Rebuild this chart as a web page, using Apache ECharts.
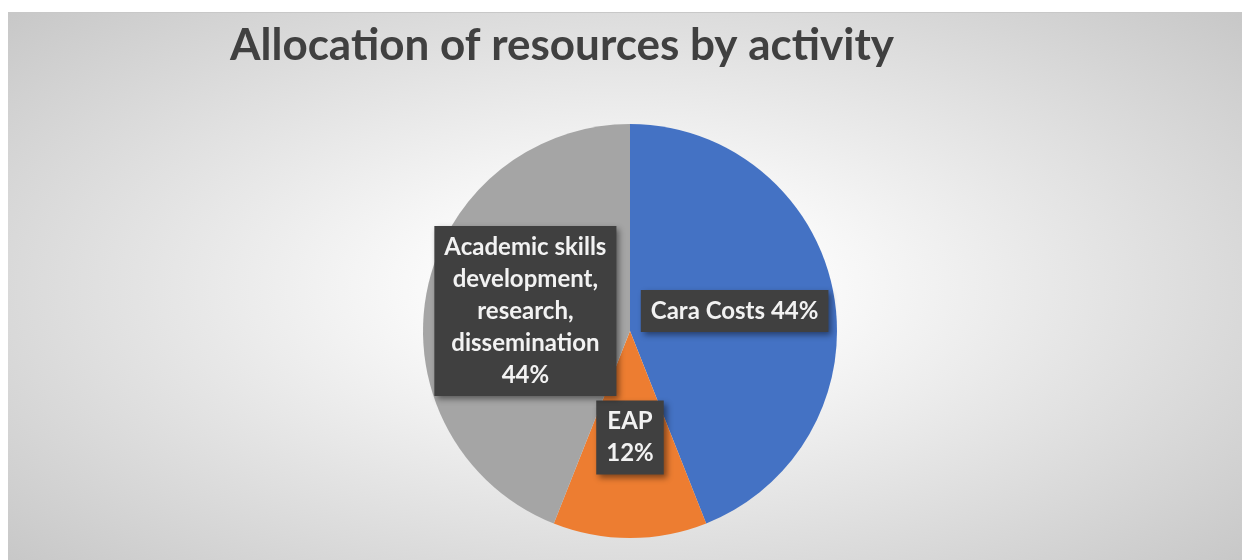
<!DOCTYPE html>
<html>
<head>
<meta charset="utf-8">
<script src="https://cdn.jsdelivr.net/npm/echarts@6/dist/echarts.min.js"></script>
<style>
  html, body { margin: 0; padding: 0; background: #fff; }
  #main {
    position: absolute; left: 8px; top: 12px; width: 1234px; height: 548px;
    border-top: 1px solid #c8c8c8;
    background: radial-gradient(ellipse 70% 75% at 50% 50%, #ffffff 15%, #c6c6c6 100%);
  }
</style>
</head>
<body>
<div id="main"></div>
<script>
// slice data
const categories = ['Cara Costs', 'EAP', 'Academic skills\ndevelopment,\nresearch,\ndissemination'];
const shares = [44, 12, 44];
const colors = ['#4472c4', '#ed7d31', '#a5a5a5'];

const chart = echarts.init(document.getElementById('main'));

chart.setOption({
  title: {
    text: 'Allocation of resources by activity',
    left: 217,
    top: 6,
    textStyle: {
      fontFamily: 'Lato',
      fontWeight: 'bold',
      fontSize: 44,
      color: '#404040'
    }
  },
  series: [{
    type: 'pie',
    center: [622, 318],
    radius: 207,
    startAngle: 90,
    clockwise: true,
    silent: true,
    label: {
      show: true,
      position: 'inside',
      formatter: function (p) {
        return p.dataIndex === 0 ? p.name + ' ' + p.value + '%' : p.name + '\n' + p.value + '%';
      },
      fontFamily: 'Lato',
      fontWeight: 'bold',
      fontSize: 24,
      lineHeight: 32,
      color: '#f2f2f2',
      align: 'center',
      backgroundColor: '#404040',
      padding: [5, 10],
      shadowColor: 'rgba(0,0,0,0.45)',
      shadowBlur: 6,
      shadowOffsetX: 3,
      shadowOffsetY: 3
    },
    labelLine: { show: false },
    data: categories.map((name, i) => ({
      name: name,
      value: shares[i],
      itemStyle: { color: colors[i] }
    }))
  }]
});
</script>
</body>
</html>
